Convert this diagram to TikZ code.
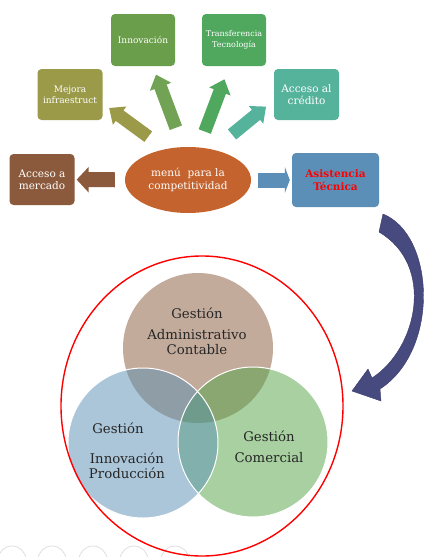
\documentclass[tikz,border=0pt]{standalone}
\usepackage{fontspec}
\setmainfont{DejaVu Serif}
\usetikzlibrary{arrows.meta,shapes.geometric}

\definecolor{mercadoc}{HTML}{8B5A3C}
\definecolor{mejorac}{HTML}{9B9A48}
\definecolor{innovc}{HTML}{6B9E4B}
\definecolor{transfc}{HTML}{4FA85E}
\definecolor{creditoc}{HTML}{55B39C}
\definecolor{asistc}{HTML}{5B8FB8}
\definecolor{menuc}{HTML}{C5632E}
\definecolor{curvac}{HTML}{474A7F}
\definecolor{admc}{HTML}{C3AB9C}
\definecolor{innc}{HTML}{ABC5D9}
\definecolor{comc}{HTML}{A8D0A1}
\definecolor{aic}{HTML}{8E9DA6}
\definecolor{acc}{HTML}{8AA771}
\definecolor{icc}{HTML}{82B0AD}
\definecolor{aicc}{HTML}{6F9B8D}

\tikzset{
  caja/.style={rounded corners=4pt, minimum width=65pt, minimum height=51pt,
    inner sep=1pt, align=center, text=white},
  flecha/.style={line width=13pt, -{Triangle[length=13pt,width=22pt]}},
  plana/.style={line width=15pt},
  venn/.style={align=center, text=black!85, inner sep=0pt,
    font=\fontsize{13.3}{15}\selectfont},
}

\begin{document}
\begin{tikzpicture}[x=1pt,y=1pt]
	\useasboundingbox (0,0) rectangle (426,-557);
	% circulos grises de abajo
	\foreach \cx in {12,52,93,134,175}
		\draw[black!13, line width=0.8pt] (\cx,-560) circle (14);

	% menu y cajas
	\node[ellipse, fill=menuc, minimum width=126pt, minimum height=66pt, inner sep=0pt, text=white, align=center, font=\fontsize{10.5}{13}\selectfont] (menu) at (188,-180) {menú\ \ para la\\competitividad};
	\coordinate (hub) at (191,-168);
	\node[caja, fill=mercadoc, font=\fontsize{10.5}{12.5}\selectfont] (mercado) at (42,-179.5) {Acceso a\\mercado};
	\node[caja, fill=mejorac, font=\fontsize{9}{11}\selectfont] (mejora) at (70,-94.5) {Mejora\\infraestruct};
	\node[caja, fill=innovc, minimum width=64pt, minimum height=52pt, font=\fontsize{9}{11}\selectfont] (innov) at (143,-40) {Innovación};
	\node[caja, fill=transfc, minimum width=64pt, minimum height=52pt, font=\fontsize{8}{10.5}\selectfont] (transf) at (234,-40) {Transferencia\\Tecnología};
	\node[caja, fill=creditoc, font=\fontsize{10.5}{12.5}\selectfont] (credito) at (306.5,-94.5) {Acceso al\\crédito};
	\node[caja, fill=asistc, minimum width=87pt, minimum height=54pt, text=red, font=\bfseries\fontsize{10.5}{13}\selectfont] (asist) at (335.5,-180) {Asistencia\\Técnica};

	% flechas
	\draw[plana, mercadoc, -{Triangle[length=12pt,width=25pt]}, shorten <=10pt, shorten >=2pt] (menu) -- (mercado);
	\draw[plana, asistc, -{Triangle[length=5pt,width=26pt]}, shorten <=7pt, shorten >=2pt] (menu) -- (asist);
	\draw[flecha, mejorac, shorten <=53pt, shorten >=8pt] (hub) -- (mejora.-15);
	\draw[flecha, innovc!95!white, shorten <=43pt, shorten >=9pt] (hub) -- (innov);
	\draw[flecha, transfc, shorten <=39pt, shorten >=14pt] (hub) -- (transf.-100);
	\draw[flecha, creditoc, shorten <=53pt, shorten >=10pt] (hub) -- (credito.190);

	% flecha curva
	\filldraw[fill=curvac, draw=curvac!80!black, line width=0.4pt] (383,-214) .. controls (435,-235) and (440,-350) .. (380,-389) -- (381,-401) -- (352,-391) -- (368,-369) -- (372,-378) .. controls (418,-348) and (435,-265) .. (379,-232) -- cycle;

	% diagrama de gestion
	\coordinate (cA) at (198,-348);
	\coordinate (cI) at (143,-443);
	\coordinate (cC) at (253,-442);
	\fill[admc] (cA) circle (75);
	\fill[innc] (cI) circle (75);
	\fill[comc] (cC) circle (75);
	\begin{scope}
		\clip (cA) circle (75);
		\fill[aic] (cI) circle (75);
		\fill[acc] (cC) circle (75);
	\end{scope}
	\begin{scope}
		\clip (cI) circle (75);
		\fill[icc] (cC) circle (75);
	\end{scope}
	\begin{scope}
		\clip (cA) circle (75);
		\clip (cI) circle (75);
		\fill[aicc] (cC) circle (75);
	\end{scope}
	\draw[white, line width=1pt] (cI) circle (75) (cC) circle (75);
	\draw[red, line width=1.4pt] (202,-406) ellipse (141 and 150);

	\node[venn] (ga) at (197,-313) {Gestión};
	\node[venn] (adm) at (197,-342.5) {Administrativo\\Contable};
	\node[venn] (gi) at (118,-428) {Gestión};
	\node[venn, font=\fontsize{13.3}{14.5}\selectfont] (inn) at (127,-466) {Innovación\\Producción};
	\node[venn, font=\fontsize{13.3}{21}\selectfont] (com) at (269,-446.5) {Gestión\\Comercial};
\end{tikzpicture}
\end{document}
